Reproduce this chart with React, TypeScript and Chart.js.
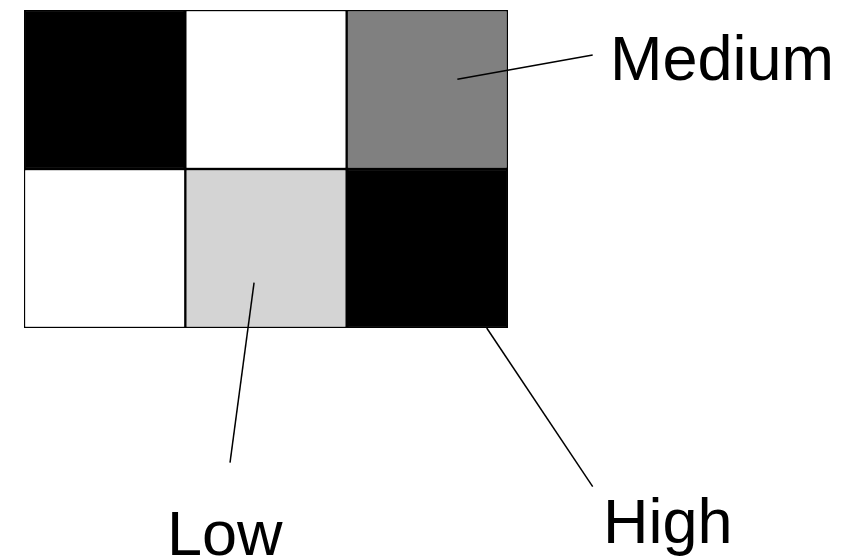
import React, { useEffect, useRef } from "react";
import { Chart, registerables } from "chart.js";

Chart.register(...registerables);

// Grid columns and rows (each cell spans one unit)
const columns = ["Col 1", "Col 2", "Col 3"];
const topRowLevels = [1, 0, 0.5];       // 1 = black, 0 = white
const bottomRowLevels = [0, 0.17, 1];
const cellSpan = [1, 1, 1];

// Annotations (in data units of the grid scales)
const annotationLabels = ["Medium", "Low", "High"];
const anchorX = [2.186, 0.926, 2.368];
const anchorY = [1.564, 0.285, 0.0];
const leaderEndX = [3.025, 0.777, 3.025];
const leaderEndY = [1.717, -0.847, -0.998];
const labelX = [3.132, 0.386, 3.089];
const labelY = [1.56, -1.428, -1.354];

const shade = (v: number) => {
  const c = Math.round(255 * (1 - v));
  return `rgb(${c},${c},${c})`;
};

const annotationPlugin = {
  id: "annotations",
  afterDraw(chart: any) {
    const ctx = chart.ctx;
    const xs = chart.scales.x;
    const ys = chart.scales.y;
    ctx.save();
    ctx.strokeStyle = "#000";
    ctx.lineWidth = 1.5;
    ctx.fillStyle = "#000";
    ctx.font = '63px "Liberation Sans", Arial, sans-serif';
    ctx.textAlign = "left";
    ctx.textBaseline = "alphabetic";
    annotationLabels.forEach((label, i) => {
      ctx.beginPath();
      ctx.moveTo(xs.getPixelForValue(anchorX[i]), ys.getPixelForValue(anchorY[i]));
      ctx.lineTo(xs.getPixelForValue(leaderEndX[i]), ys.getPixelForValue(leaderEndY[i]));
      ctx.stroke();
      ctx.fillText(label, xs.getPixelForValue(labelX[i]), ys.getPixelForValue(labelY[i]));
    });
    ctx.restore();
  },
};

export default function App() {
  const ref = useRef<HTMLCanvasElement | null>(null);
  useEffect(() => {
    if (!ref.current) return;
    const chart = new Chart(ref.current, {
      type: "bar",
      data: {
        labels: columns,
        datasets: [
          {
            label: "Bottom row",
            data: cellSpan,
            backgroundColor: bottomRowLevels.map(shade),
            borderColor: "#000",
            borderWidth: 1.5,
            borderSkipped: false,
            barPercentage: 1,
            categoryPercentage: 1,
          },
          {
            label: "Top row",
            data: cellSpan,
            backgroundColor: topRowLevels.map(shade),
            borderColor: "#000",
            borderWidth: 1.5,
            borderSkipped: false,
            barPercentage: 1,
            categoryPercentage: 1,
          },
        ],
      },
      options: {
        animation: false,
        responsive: true,
        maintainAspectRatio: false,
        layout: { padding: { left: 24, top: 10, right: 358, bottom: 232 } },
        plugins: { legend: { display: false }, tooltip: { enabled: false } },
        scales: {
          x: { display: false, stacked: true, grid: { display: false } },
          y: { display: false, stacked: true, min: 0, max: 2, grid: { display: false } },
        },
      },
      plugins: [annotationPlugin],
    });
    return () => chart.destroy();
  }, []);
  return (
    <div style={{ position: "fixed", left: 0, top: 0, width: 866, height: 560, background: "#fff" }}>
      <canvas ref={ref} />
    </div>
  );
}
